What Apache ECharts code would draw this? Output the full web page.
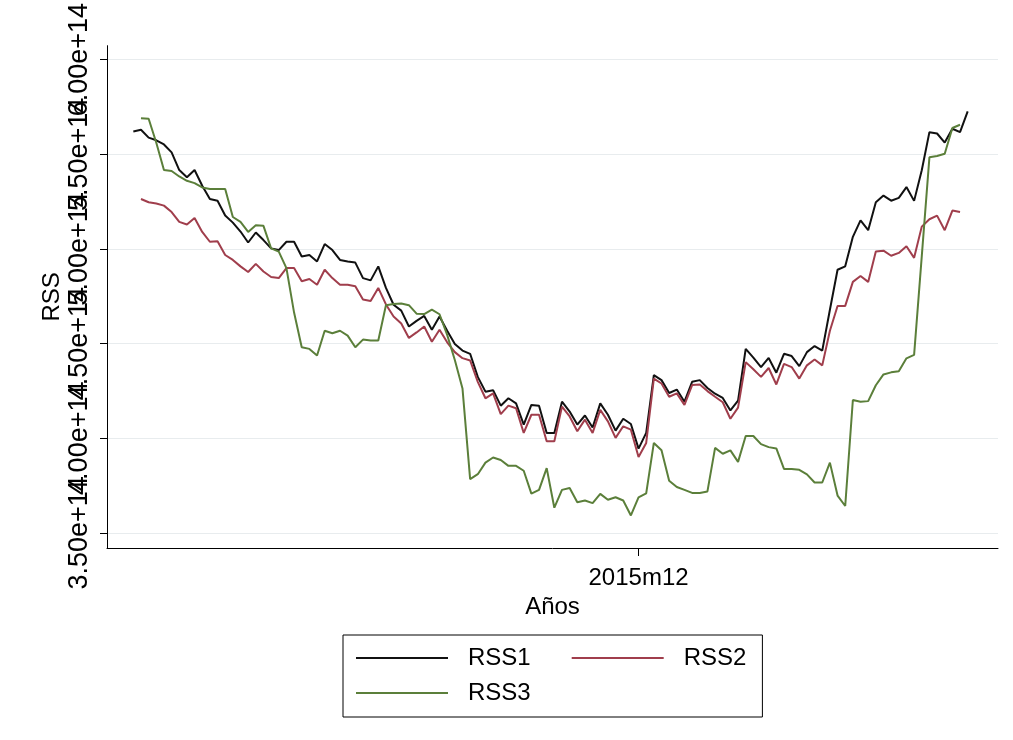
<!DOCTYPE html>
<html><head><meta charset="utf-8">
<script src="https://cdn.jsdelivr.net/npm/echarts@6/dist/echarts.min.js"></script>
<style>html,body{margin:0;padding:0;background:#fff}#c{width:1013px;height:740px}</style>
</head><body><div id="c"></div>
<script>
// Monthly periods 2010m6 .. 2019m7
const START_YEAR = 2010, START_MONTH = 6, N_MONTHS = 110;
const months = [];
for (let k = 0; k < N_MONTHS; k++) {
  const m = START_MONTH - 1 + k;
  months.push((START_YEAR + Math.floor(m / 12)) + 'm' + (m % 12 + 1));
}
const xTickMonths = ['2015m12'];
const yTicks = [3.5e14, 4.0e14, 4.5e14, 5.0e14, 5.5e14, 6.0e14];
const SCALE = 1e14; // values below are in units of 1e14

const rss1 = [
  5.621, 5.630, 5.588, 5.574, 5.552, 5.510, 5.417, 5.379, 5.417, 5.334,
  5.264, 5.255, 5.177, 5.139, 5.092, 5.034, 5.087, 5.047, 5.003, 4.994,
  5.038, 5.038, 4.960, 4.968, 4.934, 5.026, 4.994, 4.942, 4.934, 4.928,
  4.846, 4.834, 4.908, 4.794, 4.705, 4.674, 4.590, 4.620, 4.646, 4.573,
  4.643, 4.568, 4.498, 4.463, 4.446, 4.324, 4.246, 4.254, 4.172, 4.211,
  4.184, 4.072, 4.176, 4.172, 4.028, 4.028, 4.193, 4.141, 4.072, 4.120,
  4.057, 4.184, 4.124, 4.040, 4.103, 4.075, 3.945, 4.028, 4.333, 4.307,
  4.239, 4.257, 4.193, 4.298, 4.307, 4.265, 4.235, 4.213, 4.147, 4.199,
  4.472, 4.426, 4.376, 4.424, 4.346, 4.446, 4.434, 4.381, 4.455, 4.487,
  4.463, 4.679, 4.890, 4.908, 5.064, 5.151, 5.099, 5.247, 5.282, 5.255,
  5.270, 5.327, 5.254, 5.416, 5.617, 5.610, 5.562, 5.635, 5.617, 5.727
];
const rss2 = [
  null, 5.264, 5.247, 5.240, 5.229, 5.195, 5.143, 5.129, 5.164, 5.090,
  5.038, 5.041, 4.968, 4.942, 4.908, 4.878, 4.921, 4.881, 4.852, 4.846,
  4.899, 4.899, 4.829, 4.841, 4.811, 4.890, 4.846, 4.811, 4.811, 4.803,
  4.733, 4.725, 4.794, 4.707, 4.643, 4.606, 4.530, 4.559, 4.590, 4.510,
  4.573, 4.507, 4.455, 4.423, 4.411, 4.298, 4.211, 4.237, 4.127, 4.172,
  4.158, 4.028, 4.124, 4.124, 3.984, 3.984, 4.167, 4.115, 4.037, 4.098,
  4.028, 4.150, 4.089, 4.002, 4.063, 4.045, 3.901, 3.975, 4.315, 4.289,
  4.219, 4.237, 4.176, 4.281, 4.284, 4.249, 4.219, 4.190, 4.103, 4.162,
  4.402, 4.364, 4.324, 4.371, 4.284, 4.393, 4.376, 4.315, 4.385, 4.416,
  4.385, 4.568, 4.699, 4.699, 4.826, 4.857, 4.826, 4.986, 4.991, 4.964,
  4.979, 5.014, 4.953, 5.118, 5.157, 5.176, 5.099, 5.203, 5.195, null
];
const rss3 = [
  null, 5.691, 5.688, 5.561, 5.417, 5.412, 5.383, 5.360, 5.348, 5.325,
  5.317, 5.317, 5.317, 5.169, 5.143, 5.090, 5.125, 5.122, 5.003, 4.986,
  4.899, 4.664, 4.481, 4.472, 4.437, 4.568, 4.555, 4.568, 4.542, 4.481,
  4.521, 4.516, 4.516, 4.703, 4.709, 4.712, 4.703, 4.658, 4.656, 4.679,
  4.655, 4.546, 4.413, 4.263, 3.784, 3.810, 3.871, 3.898, 3.885, 3.854,
  3.854, 3.828, 3.707, 3.727, 3.842, 3.633, 3.727, 3.737, 3.662, 3.671,
  3.657, 3.706, 3.675, 3.688, 3.671, 3.592, 3.688, 3.709, 3.975, 3.936,
  3.775, 3.742, 3.727, 3.711, 3.711, 3.719, 3.949, 3.918, 3.936, 3.875,
  4.012, 4.012, 3.969, 3.953, 3.946, 3.838, 3.838, 3.833, 3.809, 3.766,
  3.766, 3.871, 3.697, 3.642, 4.202, 4.193, 4.196, 4.280, 4.337, 4.348,
  4.354, 4.422, 4.440, 4.961, 5.484, 5.491, 5.503, 5.639, 5.656, null
];

const seriesNames = ['RSS1', 'RSS2', 'RSS3'];
const seriesColors = ['#111111', '#a03e4c', '#5b7f3a'];
const seriesValues = [rss1, rss2, rss3];

const FONT = 'Liberation Sans, Arial, Helvetica, sans-serif';
const chart = echarts.init(document.getElementById('c'), null, {renderer: 'canvas'});
const xTickIdx = xTickMonths.map(m => months.indexOf(m));
// labels overlap (as in the original); split them over two stacked axes so none gets hidden
const yLabelsA = yTicks.filter((_, k) => k % 2 === 0);
const yLabelsB = yTicks.filter((_, k) => k % 2 === 1);
const Y_MIN = 3.42e14, Y_MAX = 6.074e14;

const yLabelStyle = labels => ({show: true, customValues: labels, rotate: 90, margin: 14, fontSize: 27,
  color: '#000', fontFamily: FONT, hideOverlap: false, showMinLabel: true, showMaxLabel: true,
  formatter: v => Number(v).toExponential(2)});

const legendText = {fontSize: 24, color: '#000', fontFamily: FONT,
  rich: {g: {width: 15, fontSize: 24, fontFamily: FONT}, a: {fontSize: 24, color: '#000', fontFamily: FONT}}};
const legendFmt = name => '{g| }{a|' + name + '}';

chart.setOption({
  animation: false,
  backgroundColor: '#ffffff',
  textStyle: {fontFamily: FONT},
  grid: {left: 107, right: 15, top: 40, bottom: 192, containLabel: false},
  xAxis: {
    type: 'value', min: -3.44, max: 112.96,
    name: 'Años', nameLocation: 'middle', nameGap: 47, nameMoveOverlap: false,
    nameTextStyle: {fontSize: 24, color: '#000', fontFamily: FONT},
    axisLine: {show: true, onZero: false, lineStyle: {color: '#000', width: 1}},
    axisTick: {show: true, length: 8, customValues: xTickIdx, lineStyle: {color: '#000'}},
    axisLabel: {show: true, customValues: xTickIdx, margin: 18, fontSize: 24, color: '#000', fontFamily: FONT,
      formatter: v => months[Math.round(v)] || ''},
    splitLine: {show: false}
  },
  yAxis: [{
    type: 'value', min: Y_MIN, max: Y_MAX, position: 'left',
    name: 'RSS', nameLocation: 'middle', nameGap: 43, nameMoveOverlap: false,
    nameTextStyle: {fontSize: 24, color: '#000', fontFamily: FONT},
    axisLine: {show: true, onZero: false, lineStyle: {color: '#000', width: 1}},
    axisTick: {show: true, length: 7, customValues: yTicks, lineStyle: {color: '#000'}},
    axisLabel: yLabelStyle(yLabelsA),
    splitLine: {show: true, lineStyle: {color: '#e8ecee', width: 1.2}}
  }, {
    type: 'value', min: Y_MIN, max: Y_MAX, position: 'left', offset: 0,
    axisLine: {show: false, onZero: false},
    axisTick: {show: false, customValues: yTicks},
    axisLabel: yLabelStyle(yLabelsB),
    splitLine: {show: false}
  }],
  legend: [{
    left: 343, top: 635,
    orient: 'horizontal', selectedMode: false,
    itemWidth: 92, itemHeight: 14, itemGap: 40,
    padding: [11, 16, 47, 12],
    borderColor: '#000', borderWidth: 1, borderRadius: 0,
    itemStyle: {opacity: 0},
    data: seriesNames.slice(0, 2),
    formatter: legendFmt, textStyle: legendText
  }, {
    left: 355, top: 681,
    orient: 'horizontal', selectedMode: false,
    itemWidth: 92, itemHeight: 14, itemGap: 40,
    padding: 0, borderWidth: 0,
    itemStyle: {opacity: 0},
    data: seriesNames.slice(2),
    formatter: legendFmt, textStyle: legendText
  }],
  series: seriesNames.map((n, s) => ({
    name: n, type: 'line', symbol: 'none', showSymbol: false, yAxisIndex: 0,
    color: seriesColors[s],
    lineStyle: {color: seriesColors[s], width: 2},
    data: seriesValues[s].map((v, i) => [i, v === null ? null : v * SCALE]),
    connectNulls: false
  }))
});
</script></body></html>
